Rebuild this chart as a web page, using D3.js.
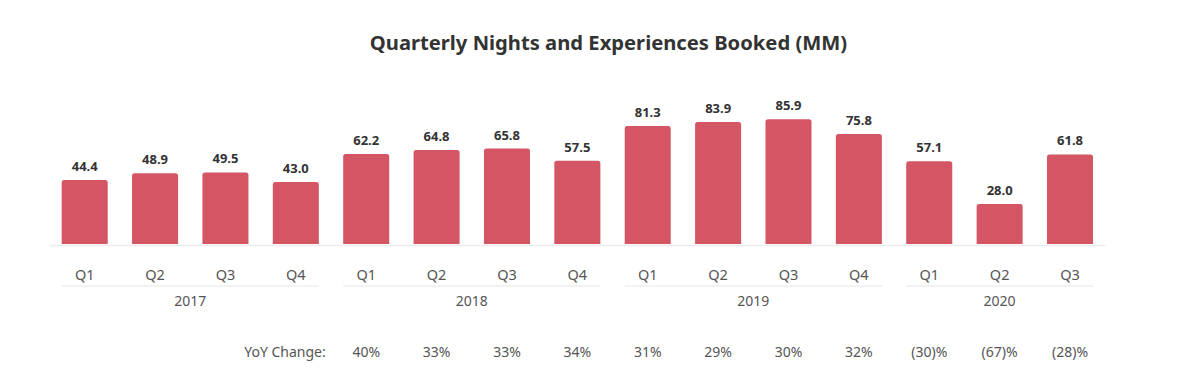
<!DOCTYPE html>
<html>
<head>
<meta charset="utf-8">
<script src="https://cdn.jsdelivr.net/npm/d3@7"></script>
<style>
  html, body { margin: 0; padding: 0; background: #fff; }
  svg { display: block; }
</style>
</head>
<body>
<svg id="chart" width="1198" height="378"></svg>
<script>
const years = ["2017", "2018", "2019", "2020"];
const quarters = ["Q1","Q2","Q3","Q4","Q1","Q2","Q3","Q4","Q1","Q2","Q3","Q4","Q1","Q2","Q3"];
const quarterYears = ["2017","2017","2017","2017","2018","2018","2018","2018","2019","2019","2019","2019","2020","2020","2020"];
const nights = [44.4, 48.9, 49.5, 43.0, 62.2, 64.8, 65.8, 57.5, 81.3, 83.9, 85.9, 75.8, 57.1, 28.0, 61.8];
const yoyLabels = ["", "", "", "", "40%", "33%", "33%", "34%", "31%", "29%", "30%", "32%", "(30)%", "(67)%", "(28)%"];
const yoyTitle = "YoY Change:";
const title = "Quarterly Nights and Experiences Booked (MM)";

const svg = d3.select("#chart");
const font = "'Noto Sans', 'Open Sans', sans-serif";
const ids = quarters.map((q, i) => i);

const x = d3.scaleBand().domain(ids).range([49.5, 1105.2]).paddingInner(0.346).paddingOuter(0.173);
const y = d3.scaleLinear().domain([0, 90]).range([245, 245 - 90 * 1.465]);

// title
svg.append("text")
  .attr("x", 608.5).attr("y", 49.5)
  .attr("text-anchor", "middle")
  .attr("font-family", font).attr("font-weight", 700)
  .attr("font-size", 20.2).attr("fill", "#333")
  .text(title);

// baseline
svg.append("line")
  .attr("x1", x.range()[0]).attr("x2", x.range()[1])
  .attr("y1", y(0) + 0.5).attr("y2", y(0) + 0.5)
  .attr("stroke", "#ececec").attr("stroke-width", 1.5);

// bars
const barColor = "#d45563";
svg.append("g").selectAll("path").data(ids).join("path")
  .attr("d", i => {
    const x0 = x(i), w = x.bandwidth(), top = y(nights[i]), bot = y(0) - 1, r = 2.5;
    return `M${x0},${bot} L${x0},${top + r} Q${x0},${top} ${x0 + r},${top} L${x0 + w - r},${top} Q${x0 + w},${top} ${x0 + w},${top + r} L${x0 + w},${bot} Z`;
  })
  .attr("fill", barColor);

// value labels
svg.append("g").selectAll("text").data(ids).join("text")
  .attr("x", i => x(i) + x.bandwidth() / 2)
  .attr("y", i => y(nights[i]) - 9)
  .attr("text-anchor", "middle")
  .attr("font-family", font).attr("font-weight", 700)
  .attr("font-size", 13).attr("fill", "#333")
  .text(i => nights[i].toFixed(1));

// quarter labels
svg.append("g").selectAll("text").data(ids).join("text")
  .attr("x", i => x(i) + x.bandwidth() / 2)
  .attr("y", 280)
  .attr("text-anchor", "middle")
  .attr("font-family", font)
  .attr("font-size", 14.5).attr("fill", "#555")
  .text(i => quarters[i]);

// year groups
years.forEach(yr => {
  const members = ids.filter(i => quarterYears[i] === yr);
  const x0 = x(members[0]);
  const x1 = x(members[members.length - 1]) + x.bandwidth();
  svg.append("line")
    .attr("x1", x0).attr("x2", x1)
    .attr("y1", 286).attr("y2", 286)
    .attr("stroke", "#e6e6e6").attr("stroke-width", 1);
  svg.append("text")
    .attr("x", (x0 + x1) / 2).attr("y", 306)
    .attr("text-anchor", "middle")
    .attr("font-family", font)
    .attr("font-size", 14).attr("fill", "#555")
    .text(yr);
});

// YoY row
svg.append("text")
  .attr("x", 285).attr("y", 357)
  .attr("text-anchor", "middle")
  .attr("font-family", font)
  .attr("font-size", 14).attr("fill", "#555")
  .text(yoyTitle);

svg.append("g").selectAll("text").data(ids.filter(i => yoyLabels[i] !== "")).join("text")
  .attr("x", i => x(i) + x.bandwidth() / 2)
  .attr("y", 357)
  .attr("text-anchor", "middle")
  .attr("font-family", font)
  .attr("font-size", 14).attr("fill", "#555")
  .text(i => yoyLabels[i]);
</script>
</body>
</html>
